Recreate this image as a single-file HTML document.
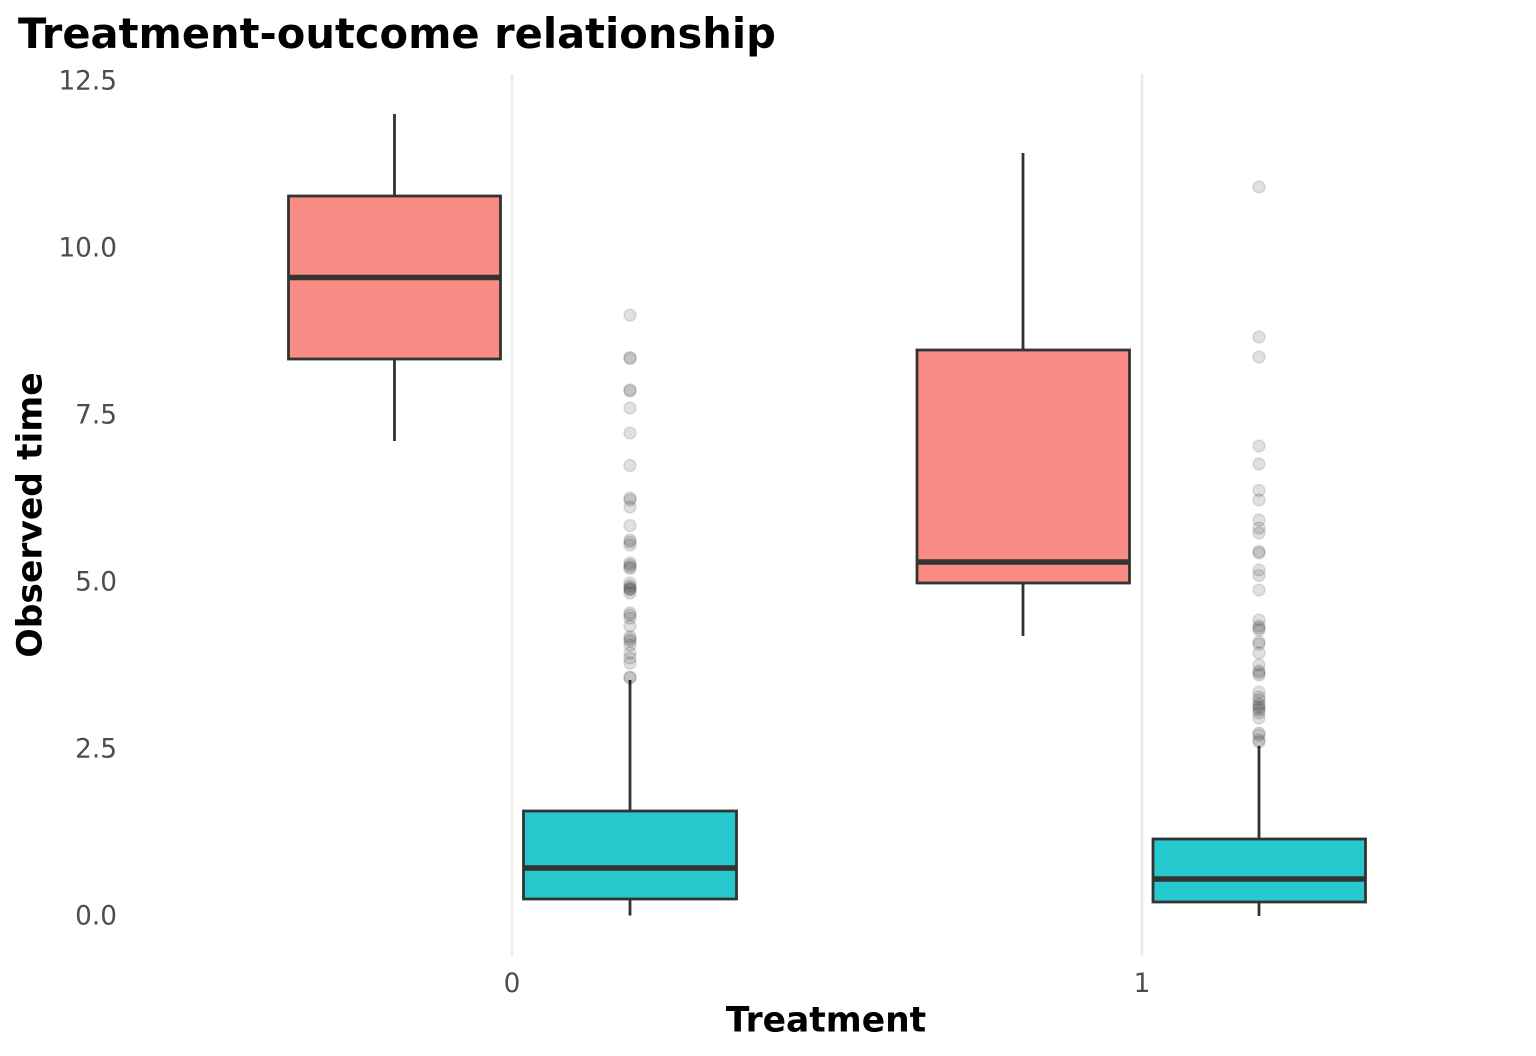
<!DOCTYPE html>
<html>
<head>
<meta charset="utf-8">
<style>
  html, body { margin: 0; padding: 0; background: #ffffff; }
  svg { display: block; }
  text { font-family: "DejaVu Sans", "Liberation Sans", sans-serif; }
</style>
</head>
<body>
<svg width="1536" height="1056" viewBox="0 0 1536 1056" xmlns="http://www.w3.org/2000/svg">
  <rect width="1536" height="1056" fill="#ffffff"/>

  <!-- title -->
  <text x="18" y="48" font-size="41.6" font-weight="bold" fill="#000000">Treatment-outcome relationship</text>

  <!-- vertical grid lines -->
  <line x1="512" y1="74" x2="512" y2="956" stroke="#ebebeb" stroke-width="2.6"/>
  <line x1="1142" y1="74" x2="1142" y2="956" stroke="#ebebeb" stroke-width="2.6"/>

  <!-- y tick labels -->
  <g font-size="26.3" fill="#4d4d4d" text-anchor="end">
    <text x="117" y="89.6">12.5</text>
    <text x="117" y="256.6">10.0</text>
    <text x="117" y="423.6">7.5</text>
    <text x="117" y="590.6">5.0</text>
    <text x="117" y="757.6">2.5</text>
    <text x="117" y="924.6">0.0</text>
  </g>

  <!-- x tick labels -->
  <g font-size="26.3" fill="#4d4d4d" text-anchor="middle">
    <text x="512" y="992">0</text>
    <text x="1142" y="992">1</text>
  </g>

  <!-- axis titles -->
  <text x="826" y="1031.5" font-size="34.5" font-weight="bold" text-anchor="middle" fill="#000000">Treatment</text>
  <text transform="translate(41.5,515) rotate(-90)" font-size="34.5" font-weight="bold" text-anchor="middle" fill="#000000">Observed time</text>

  <!-- whiskers -->
  <g stroke="#333333" stroke-width="2.8">
    <line x1="394.5" y1="114" x2="394.5" y2="196"/>
    <line x1="394.5" y1="359" x2="394.5" y2="441"/>
    <line x1="630" y1="680" x2="630" y2="811"/>
    <line x1="630" y1="899" x2="630" y2="915.5"/>
    <line x1="1023" y1="153" x2="1023" y2="350"/>
    <line x1="1023" y1="583" x2="1023" y2="636"/>
    <line x1="1259" y1="746" x2="1259" y2="839"/>
    <line x1="1259" y1="902" x2="1259" y2="916"/>
  </g>

  <!-- boxes -->
  <g stroke="#333333" stroke-width="2.8">
    <rect x="288.5" y="196" width="212" height="163" fill="#f88b83"/>
    <rect x="523.5" y="811" width="213" height="88" fill="#26c9cd"/>
    <rect x="917" y="350" width="212.5" height="233" fill="#f88b83"/>
    <rect x="1153" y="839" width="212.5" height="63" fill="#26c9cd"/>
  </g>

  <!-- medians -->
  <g stroke="#333333" stroke-width="5.6">
    <line x1="287.5" y1="277.5" x2="501.5" y2="277.5"/>
    <line x1="522.5" y1="868" x2="737.5" y2="868"/>
    <line x1="916" y1="562" x2="1130" y2="562"/>
    <line x1="1152" y1="879" x2="1366.5" y2="879"/>
  </g>

  <!-- outliers group 0 -->
  <g fill="rgba(0,0,0,0.12)" stroke="rgba(0,0,0,0.1)" stroke-width="1.6">
    <circle cx="630" cy="315" r="6"/>
    <circle cx="630" cy="357.5" r="6"/>
    <circle cx="630" cy="358.5" r="6"/>
    <circle cx="630" cy="390" r="6"/>
    <circle cx="630" cy="391" r="6"/>
    <circle cx="630" cy="408" r="6"/>
    <circle cx="630" cy="433" r="6"/>
    <circle cx="630" cy="465.5" r="6"/>
    <circle cx="630" cy="498" r="6"/>
    <circle cx="630" cy="500" r="6"/>
    <circle cx="630" cy="507" r="6"/>
    <circle cx="630" cy="525.5" r="6"/>
    <circle cx="630" cy="540" r="6"/>
    <circle cx="630" cy="542" r="6"/>
    <circle cx="630" cy="545" r="6"/>
    <circle cx="630" cy="563" r="6"/>
    <circle cx="630" cy="565" r="6"/>
    <circle cx="630" cy="567" r="6"/>
    <circle cx="630" cy="568.5" r="6"/>
    <circle cx="630" cy="583" r="6"/>
    <circle cx="630" cy="586" r="6"/>
    <circle cx="630" cy="588" r="6"/>
    <circle cx="630" cy="589" r="6"/>
    <circle cx="630" cy="590" r="6"/>
    <circle cx="630" cy="593" r="6"/>
    <circle cx="630" cy="613" r="6"/>
    <circle cx="630" cy="615" r="6"/>
    <circle cx="630" cy="618" r="6"/>
    <circle cx="630" cy="626" r="6"/>
    <circle cx="630" cy="636.5" r="6"/>
    <circle cx="630" cy="639" r="6"/>
    <circle cx="630" cy="641" r="6"/>
    <circle cx="630" cy="645" r="6"/>
    <circle cx="630" cy="653" r="6"/>
    <circle cx="630" cy="658" r="6"/>
    <circle cx="630" cy="663" r="6"/>
    <circle cx="630" cy="677" r="6"/>
    <circle cx="630" cy="678" r="6"/>
  </g>

  <!-- outliers group 1 -->
  <g fill="rgba(0,0,0,0.12)" stroke="rgba(0,0,0,0.1)" stroke-width="1.6">
    <circle cx="1259" cy="187" r="6"/>
    <circle cx="1259" cy="337" r="6"/>
    <circle cx="1259" cy="357" r="6"/>
    <circle cx="1259" cy="446" r="6"/>
    <circle cx="1259" cy="464" r="6"/>
    <circle cx="1259" cy="490.5" r="6"/>
    <circle cx="1259" cy="500" r="6"/>
    <circle cx="1259" cy="520" r="6"/>
    <circle cx="1259" cy="528" r="6"/>
    <circle cx="1259" cy="533" r="6"/>
    <circle cx="1259" cy="551.5" r="6"/>
    <circle cx="1259" cy="553" r="6"/>
    <circle cx="1259" cy="570" r="6"/>
    <circle cx="1259" cy="575.5" r="6"/>
    <circle cx="1259" cy="590" r="6"/>
    <circle cx="1259" cy="620" r="6"/>
    <circle cx="1259" cy="626" r="6"/>
    <circle cx="1259" cy="628" r="6"/>
    <circle cx="1259" cy="630" r="6"/>
    <circle cx="1259" cy="642" r="6"/>
    <circle cx="1259" cy="644" r="6"/>
    <circle cx="1259" cy="653" r="6"/>
    <circle cx="1259" cy="665" r="6"/>
    <circle cx="1259" cy="671" r="6"/>
    <circle cx="1259" cy="673" r="6"/>
    <circle cx="1259" cy="675" r="6"/>
    <circle cx="1259" cy="692" r="6"/>
    <circle cx="1259" cy="697" r="6"/>
    <circle cx="1259" cy="700" r="6"/>
    <circle cx="1259" cy="704" r="6"/>
    <circle cx="1259" cy="706" r="6"/>
    <circle cx="1259" cy="708" r="6"/>
    <circle cx="1259" cy="710" r="6"/>
    <circle cx="1259" cy="713" r="6"/>
    <circle cx="1259" cy="718" r="6"/>
    <circle cx="1259" cy="733" r="6"/>
    <circle cx="1259" cy="735" r="6"/>
    <circle cx="1259" cy="740" r="6"/>
    <circle cx="1259" cy="742" r="6"/>
  </g>
</svg>
</body>
</html>
